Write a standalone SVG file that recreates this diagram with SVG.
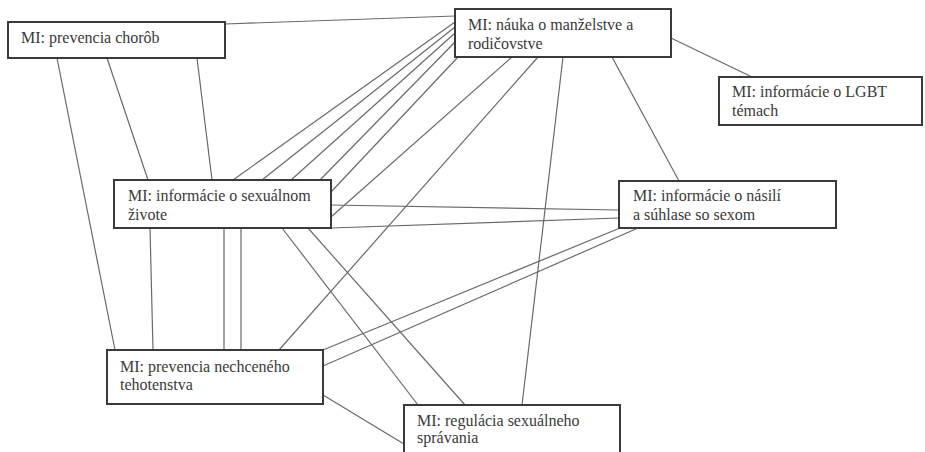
<svg xmlns="http://www.w3.org/2000/svg" width="925" height="452" viewBox="0 0 925 452">
<style>
.e{stroke:#6a6a6a;stroke-width:1.2;fill:none}
.n rect{fill:#fff;stroke:#3a3a3a;stroke-width:2}
.n text{font-family:"Liberation Serif","Times New Roman",serif;font-size:16px;fill:#3a3a3a}
</style>
<rect width="925" height="452" fill="#fff"/>
<g id="connectors">
<line class="e" x1="225" y1="24" x2="455" y2="16"/>
<line class="e" x1="57" y1="58" x2="115" y2="350"/>
<line class="e" x1="107" y1="58" x2="148" y2="180"/>
<line class="e" x1="197" y1="58" x2="212" y2="180"/>
<line class="e" x1="150" y1="228" x2="153" y2="350"/>
<line class="e" x1="224" y1="228" x2="224" y2="350"/>
<line class="e" x1="241" y1="228" x2="241" y2="350"/>
<line class="e" x1="455" y1="22" x2="233" y2="180"/>
<line class="e" x1="455" y1="27" x2="262" y2="180"/>
<line class="e" x1="455" y1="33" x2="291" y2="180"/>
<line class="e" x1="455" y1="42" x2="320" y2="180"/>
<line class="e" x1="458" y1="57" x2="331" y2="192"/>
<line class="e" x1="512" y1="57" x2="331" y2="217"/>
<line class="e" x1="538" y1="57" x2="279" y2="350"/>
<line class="e" x1="563" y1="57" x2="522" y2="405"/>
<line class="e" x1="612" y1="57" x2="679" y2="181"/>
<line class="e" x1="671" y1="38" x2="752" y2="77"/>
<line class="e" x1="331" y1="205" x2="619" y2="210"/>
<line class="e" x1="331" y1="228" x2="619" y2="218"/>
<line class="e" x1="282" y1="228" x2="418" y2="405"/>
<line class="e" x1="308" y1="228" x2="465" y2="405"/>
<line class="e" x1="323" y1="350" x2="620" y2="228"/>
<line class="e" x1="323" y1="366" x2="638" y2="228"/>
<line class="e" x1="323" y1="395" x2="404" y2="444"/>
</g>
<g id="n-prevencia-chorob" class="n"><rect x="8" y="22" width="217" height="36"/><text x="21" y="43">MI: prevencia chorôb</text></g>
<g id="n-nauka" class="n"><rect x="455" y="9" width="216" height="48"/><text x="468" y="30">MI: náuka o manželstve a</text><text x="468" y="49">rodičovstve</text></g>
<g id="n-lgbt" class="n"><rect x="719" y="77" width="203" height="48"/><text x="732" y="97">MI: informácie o LGBT</text><text x="732" y="116">témach</text></g>
<g id="n-sexualny-zivot" class="n"><rect x="114" y="180" width="217" height="48"/><text x="128" y="201">MI: informácie o sexuálnom</text><text x="128" y="220">živote</text></g>
<g id="n-nasilie" class="n"><rect x="619" y="181" width="217" height="47"/><text x="633" y="201">MI: informácie o násilí</text><text x="633" y="220">a súhlase so sexom</text></g>
<g id="n-tehotenstvo" class="n"><rect x="107" y="350" width="216" height="54"/><text x="120" y="372">MI: prevencia nechceného</text><text x="120" y="390">tehotenstva</text></g>
<g id="n-regulacia" class="n"><rect x="404" y="405" width="216" height="60"/><text x="417" y="426">MI: regulácia sexuálneho</text><text x="417" y="443">správania</text></g>
</svg>
